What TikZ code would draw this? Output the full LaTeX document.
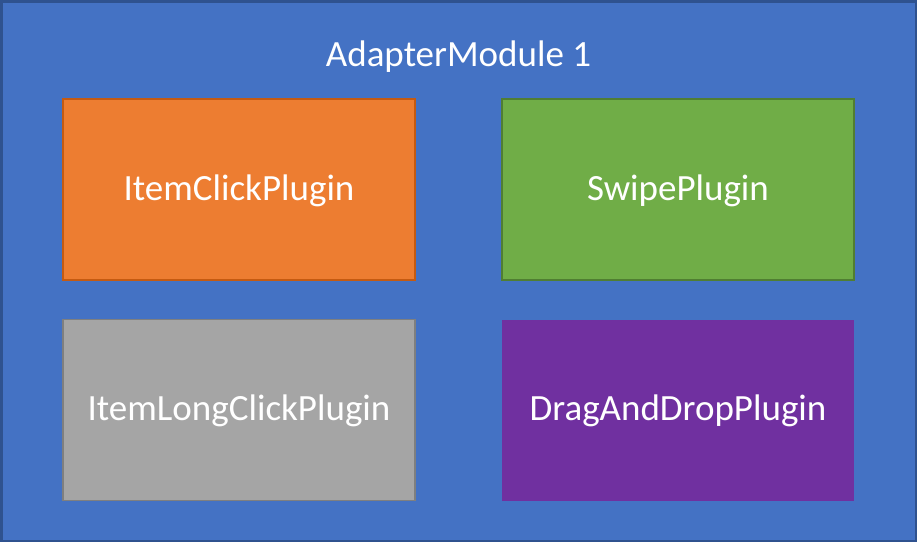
\documentclass[tikz,border=0pt]{standalone}
\usepackage{fontspec}
\setmainfont{Carlito}
\usetikzlibrary{positioning}

\definecolor{modblue}{HTML}{4472C4}
\definecolor{modborder}{HTML}{2F528F}
\definecolor{clickorange}{HTML}{ED7D31}
\definecolor{clickborder}{HTML}{C55A11}
\definecolor{swipegreen}{HTML}{70AD47}
\definecolor{swipeborder}{HTML}{507E32}
\definecolor{longgray}{HTML}{A5A5A5}
\definecolor{longborder}{HTML}{7F7F7F}
\definecolor{dragpurple}{HTML}{7030A0}

\begin{document}
\begin{tikzpicture}[x=1pt,y=-1pt,node distance=220.5pt and 439pt,on grid,
  plugin/.style={minimum width=352pt,minimum height=181pt,inner sep=0pt,
    text height=30pt,text depth=9pt,
    line width=1.6pt,text=white,font=\fontsize{37}{44}\selectfont}]
        \useasboundingbox (0,0) rectangle (917,542);
        \draw[fill=modblue,draw=modborder,line width=2.5pt] (1.25,1.25) rectangle (915.75,540.75);
        \node[text=white,font=\fontsize{37}{44}\selectfont] (title) at (458.5,57) {AdapterModule 1};
        \node[plugin,fill=clickorange,draw=clickborder] (click) at (239,189.5) {ItemClickPlugin};
        \node[plugin,fill=swipegreen,draw=swipeborder] (swipe) [right=of click] {SwipePlugin};
        \node[plugin,fill=longgray,draw=longborder] (longclick) [below=of click] {ItemLongClickPlugin};
        \node[plugin,fill=dragpurple] (drag) [right=of longclick] {DragAndDropPlugin};
      \end{tikzpicture}
\end{document}
